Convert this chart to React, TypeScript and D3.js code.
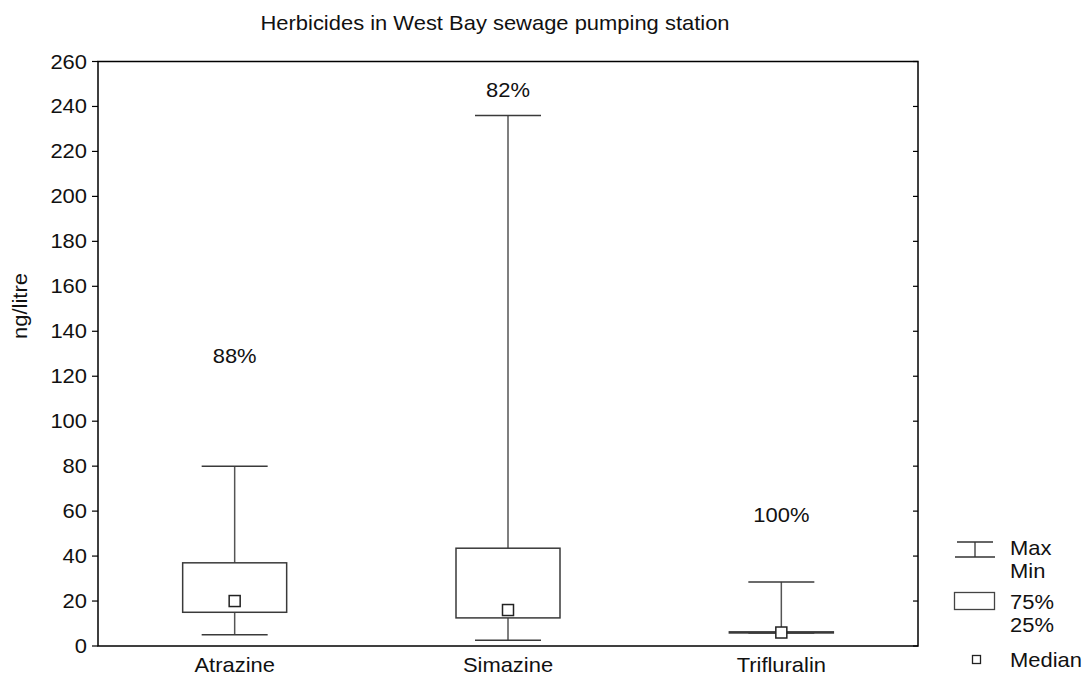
import React from "react";
import * as d3 from "d3";

const categories = ["Atrazine", "Simazine", "Trifluralin"];
const maxValues = [80, 236, 28.5];
const q75Values = [37, 43.5, 6.3];
const medianValues = [20, 16, 6];
const q25Values = [15, 12.5, 5.8];
const minValues = [5, 2.6, 5.8];
const pctLabels = ["88%", "82%", "100%"];
const pctLabelY = [126, 244, 55];
const yTicks = [0, 20, 40, 60, 80, 100, 120, 140, 160, 180, 200, 220, 240, 260];

const W = 1084;
const H = 677;
const left = 98;
const right = 918;
const top = 61.5;
const bottom = 646;
const FS = 19.6;
const SX = 1.12;
const FONT = "'Liberation Sans', Arial, sans-serif";

function T({ x, y, children, anchor = "middle", rotate = 0 }: any) {
  return (
    <text
      transform={`translate(${x},${y}) rotate(${rotate}) scale(${SX},1)`}
      textAnchor={anchor}
      fontFamily={FONT}
      fontSize={FS}
      fill="#111"
    >
      {children}
    </text>
  );
}

export default function App() {
  const x = d3.scaleBand<string>().domain(categories).range([left, right]).padding(0);
  const y = d3.scaleLinear().domain([0, 260]).range([bottom, top]);
  const boxW = 104;
  const capW = 66;
  const med = 11;
  const boxStroke = "#3a3a3a";
  const whisk = "#555";

  return (
    <svg width={W} height={H} style={{ position: "absolute", left: 0, top: 0, background: "#fff" }}>
      <rect x={0} y={0} width={W} height={H} fill="#fff" />
      <T x={495} y={30}>Herbicides in West Bay sewage pumping station</T>

      {yTicks.map((t) => (
        <g key={t}>
          <line x1={left - 6} x2={left} y1={y(t)} y2={y(t)} stroke="#000" strokeWidth={1.2} />
          <line x1={right - 5} x2={right} y1={y(t)} y2={y(t)} stroke="#000" strokeWidth={1.2} />
          <T x={left - 11} y={y(t) + 7} anchor="end">{t}</T>
        </g>
      ))}

      <T x={27} y={306} rotate={-90}>ng/litre</T>

      {categories.map((c, i) => {
        const cx = (x(c) as number) + x.bandwidth() / 2;
        return (
          <g key={c}>
            <line x1={cx} x2={cx} y1={y(maxValues[i])} y2={y(q75Values[i])} stroke={whisk} strokeWidth={1.5} />
            <line x1={cx} x2={cx} y1={y(q25Values[i])} y2={y(minValues[i])} stroke={whisk} strokeWidth={1.5} />
            <line x1={cx - capW / 2} x2={cx + capW / 2} y1={y(maxValues[i])} y2={y(maxValues[i])} stroke={boxStroke} strokeWidth={1.5} />
            <line x1={cx - capW / 2} x2={cx + capW / 2} y1={y(minValues[i])} y2={y(minValues[i])} stroke={boxStroke} strokeWidth={1.5} />
            <rect
              x={cx - boxW / 2}
              y={y(q75Values[i])}
              width={boxW}
              height={Math.max(0.5, y(q25Values[i]) - y(q75Values[i]))}
              fill="none"
              stroke={boxStroke}
              strokeWidth={1.5}
            />
            <rect
              x={cx - med / 2}
              y={y(medianValues[i]) - med / 2}
              width={med}
              height={med}
              fill="#fff"
              stroke="#222"
              strokeWidth={1.5}
            />
            <T x={cx} y={y(pctLabelY[i])}>{pctLabels[i]}</T>
            <T x={cx} y={672}>{c}</T>
          </g>
        );
      })}

      <rect x={left} y={top} width={right - left} height={bottom - top} fill="none" stroke="#000" strokeWidth={1.5} />

      <g>
        <line x1={957} x2={993} y1={542} y2={542} stroke="#333" strokeWidth={1.3} />
        <line x1={975} x2={975} y1={542} y2={557} stroke="#333" strokeWidth={1.3} />
        <line x1={955} x2={995} y1={557} y2={557} stroke="#333" strokeWidth={1.3} />
        <T x={1010} y={555} anchor="start">Max</T>
        <T x={1010} y={578} anchor="start">Min</T>
        <rect x={954.5} y={592.5} width={40} height={17} fill="none" stroke="#444" strokeWidth={1.3} />
        <T x={1010} y={609} anchor="start">75%</T>
        <T x={1010} y={632} anchor="start">25%</T>
        <rect x={972.5} y={655.5} width={8} height={8} fill="#fff" stroke="#222" strokeWidth={1.3} />
        <T x={1010} y={667} anchor="start">Median</T>
      </g>
    </svg>
  );
}
